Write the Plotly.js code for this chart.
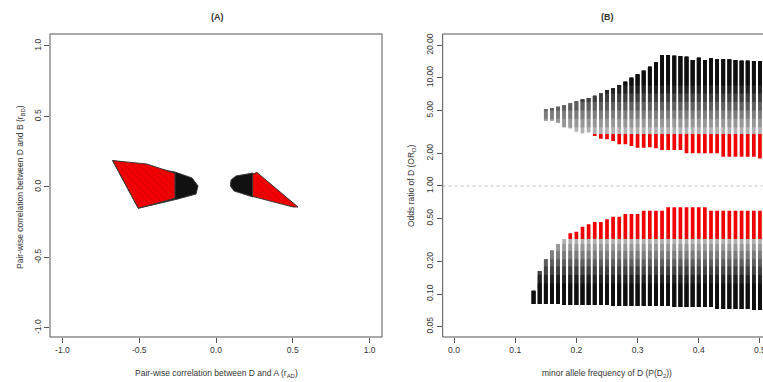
<!DOCTYPE html>
<html>
<head>
<meta charset="utf-8">
<script src="https://cdn.plot.ly/plotly-3.0.1.min.js"></script>
<style>html,body{margin:0;padding:0;background:#fff;overflow:hidden}#chart{width:763px;height:382px}</style>
</head>
<body>
<div id="chart"></div>
<script>
// ---------- Panel A data: outlines of the point clouds (r_AD, r_BD) ----------
const clusterLeftAllX  = [-0.673, -0.267, -0.156, -0.117, -0.130, -0.248, -0.506];
const clusterLeftAllY  = [ 0.187,  0.106,  0.064,  0.007, -0.050, -0.085, -0.151];
const clusterLeftRedX  = [-0.673, -0.451, -0.267, -0.267, -0.506];
const clusterLeftRedY  = [ 0.187,  0.163,  0.097, -0.080, -0.151];
const clusterRightAllX = [0.098, 0.130, 0.241, 0.241, 0.117, 0.094];
const clusterRightAllY = [0.050, 0.078, 0.099, -0.071, -0.028, 0.007];
const clusterRightRedX = [0.238, 0.267, 0.534, 0.502, 0.238];
const clusterRightRedY = [0.092, 0.103, -0.142, -0.142, -0.067];

// ---------- Panel B data: columns of OR_D per minor allele frequency ----------
const upperX      = [0.15,0.16,0.17,0.18,0.19,0.20,0.21,0.22,0.23,0.24,0.25,0.26,0.27,0.28,0.29,0.30,0.31,0.32,0.33,0.34,0.35,0.36,0.37,0.38,0.39,0.40,0.41,0.42,0.43,0.44,0.45,0.46,0.47,0.48,0.49,0.50];
const upperTop    = [5.13,5.28,5.42,5.59,5.83,6.04,6.35,6.53,6.86,7.21,7.74,8.03,8.61,9.24,10.07,10.82,11.68,12.73,13.97,16.33,16.33,16.08,15.99,15.74,14.68,15.42,14.68,15.22,14.90,14.90,14.90,14.68,14.45,14.45,14.36,14.36];
const upperBottom = [4.02,4.02,3.85,3.50,3.40,3.18,3.08,3.12,2.90,2.74,2.71,2.61,2.43,2.43,2.35,2.26,2.26,2.28,2.23,2.15,2.15,2.15,2.15,2.01,2.01,2.01,2.01,2.01,2.01,1.86,1.86,1.86,1.86,1.86,1.86,1.80];
const upperRedTop = [null,null,null,null,null,null,null,null,3.03,3.03,3.03,3.03,3.03,3.03,3.03,3.03,3.03,3.03,3.03,3.03,3.03,3.03,3.03,3.03,3.03,3.03,3.03,3.03,3.03,3.03,3.03,3.03,3.03,3.03,3.03,3.03];

const lowerX         = [0.13,0.14,0.15,0.16,0.17,0.18,0.19,0.20,0.21,0.22,0.23,0.24,0.25,0.26,0.27,0.28,0.29,0.30,0.31,0.32,0.33,0.34,0.35,0.36,0.37,0.38,0.39,0.40,0.41,0.42,0.43,0.44,0.45,0.46,0.47,0.48,0.49,0.50];
const lowerTop       = [0.107,0.163,0.210,0.255,0.290,0.323,0.365,0.377,0.420,0.442,0.464,0.464,0.492,0.520,0.520,0.551,0.551,0.551,0.591,0.591,0.591,0.591,0.635,0.635,0.635,0.635,0.635,0.635,0.635,0.591,0.591,0.591,0.591,0.591,0.591,0.591,0.591,0.591];
const lowerBottom    = [0.0808,0.0808,0.0808,0.0808,0.0808,0.0791,0.0791,0.0791,0.0791,0.0791,0.0791,0.0791,0.0791,0.0775,0.0775,0.0775,0.0775,0.0775,0.0775,0.0775,0.0775,0.0775,0.0775,0.0758,0.0758,0.0758,0.0758,0.0758,0.0758,0.0758,0.0727,0.0727,0.0727,0.0727,0.0727,0.0727,0.0712,0.0712];
const lowerRedBottom = [null,null,null,null,null,null,0.323,0.323,0.323,0.323,0.323,0.323,0.323,0.323,0.323,0.323,0.323,0.323,0.323,0.323,0.323,0.323,0.323,0.323,0.323,0.323,0.323,0.323,0.323,0.323,0.323,0.323,0.323,0.323,0.323,0.323,0.323,0.323];

const xTicksA = [-1, -0.5, 0, 0.5, 1];
const xTickTextA = ['-1.0', '-0.5', '0.0', '0.5', '1.0'];
const yTicksA = [-1, -0.5, 0, 0.5, 1];
const yTickTextA = ['-1.0', '-0.5', '0.0', '0.5', '1.0'];
const xTicksB = [0, 0.1, 0.2, 0.3, 0.4, 0.5];
const xTickTextB = ['0.0', '0.1', '0.2', '0.3', '0.4', '0.5'];
const yTicksB = [0.05, 0.1, 0.2, 0.5, 1, 2, 5, 10, 20];
const yTickTextB = ['0.05', '0.10', '0.20', '0.50', '1.00', '2.00', '5.00', '10.00', '20.00'];

// ---------- helpers: build vertical segments from the column arrays ----------
function segments(xs, lo, hi) {
  const X = [], Y = [];
  for (let i = 0; i < xs.length; i++) {
    const a = lo[i], b = hi[i];
    if (a == null || b == null || !(b > a)) continue;
    X.push(xs[i], xs[i], null);
    Y.push(a, b, null);
  }
  return {X, Y};
}
const clampMax = (arr, v) => arr.map(a => a == null ? null : Math.max(a, v));
const clampMin = (arr, v) => arr.map(a => a == null ? null : Math.min(a, v));

const RED = '#f00000';
const LW = 3.7;

function segTrace(seg, color) {
  return {x: seg.X, y: seg.Y, xaxis: 'x2', yaxis: 'y2', mode: 'lines',
          line: {color: color, width: LW}, hoverinfo: 'skip', showlegend: false, connectgaps: false};
}

// shading levels (style only): lighter grey near the red band, black at the far end
const upperShade = [[0, '#b0b0b0'], [3.5, '#979797'], [4.2, '#7c7c7c'], [5.0, '#5e5e5e'], [6.0, '#404040'], [7.2, '#222'], [8.5, '#0e0e0e']];
const lowerShade = [[1, '#b0b0b0'], [0.29, '#979797'], [0.25, '#7c7c7c'], [0.21, '#5e5e5e'], [0.18, '#404040'], [0.15, '#222'], [0.125, '#0e0e0e']];

const data = [];
function poly(xs, ys, fill, pattern) {
  const t = {x: xs.concat([xs[0]]), y: ys.concat([ys[0]]), xaxis: 'x', yaxis: 'y', mode: 'lines',
          fill: 'toself', fillcolor: fill, line: {color: '#3a3a3a', width: 1},
          hoverinfo: 'skip', showlegend: false};
  if (pattern) t.fillpattern = pattern;
  return t;
}
const redPattern = {shape: '\\', bgcolor: RED, fgcolor: '#c00000', size: 5, solidity: 0.12};
data.push(poly(clusterLeftAllX, clusterLeftAllY, '#111'));
data.push(poly(clusterLeftRedX, clusterLeftRedY, RED, redPattern));
data.push(poly(clusterRightAllX, clusterRightAllY, '#111'));
data.push(poly(clusterRightRedX, clusterRightRedY, RED, redPattern));

// upper cloud
const upLow = upperBottom.map((b, i) => upperRedTop[i] == null ? b : Math.max(b, upperRedTop[i]));
upperShade.forEach(([v, c]) => data.push(segTrace(segments(upperX, clampMax(upLow, v), upperTop), c)));
data.push(segTrace(segments(upperX, upperBottom, upperRedTop.map((r, i) => r == null ? null : Math.min(r, upperTop[i]))), RED));

// lower cloud
const lowHigh = lowerTop.map((t, i) => lowerRedBottom[i] == null ? t : Math.min(t, lowerRedBottom[i]));
lowerShade.forEach(([v, c]) => data.push(segTrace(segments(lowerX, lowerBottom, clampMin(lowHigh, v)), c)));
data.push(segTrace(segments(lowerX, lowerRedBottom, lowerTop), RED));

const FONT = 'Liberation Sans, Arial, sans-serif';
const tickFont = {family: FONT, size: 8.5, color: '#333'};
const yDom = [45/382, 348/382];

const commonAxis = {showgrid: false, zeroline: false, showline: false, ticks: 'outside',
                    ticklen: 5, tickwidth: 1, tickcolor: '#555', tickfont: tickFont, fixedrange: true};

function ann(text, xpx, ypx, size, angle) {
  return {text: text, xref: 'paper', yref: 'paper', x: xpx/763, y: (382-ypx)/382,
          xanchor: 'center', yanchor: 'middle', showarrow: false, textangle: angle || 0,
          font: {family: FONT, size: size, color: '#333'}};
}

const layout = {
  width: 763, height: 382,
  margin: {l: 0, r: 0, t: 0, b: 0},
  paper_bgcolor: '#fff', plot_bgcolor: '#fff',
  showlegend: false,
  font: {family: FONT, color: '#333'},
  xaxis: Object.assign({}, commonAxis, {domain: [50/763, 382/763], range: [-1.081, 1.081],
          tickvals: xTicksA, ticktext: xTickTextA, anchor: 'y'}),
  yaxis: Object.assign({}, commonAxis, {domain: yDom, range: [-1.064, 1.085],
          tickvals: yTicksA, ticktext: yTickTextA, tickangle: -90, anchor: 'x'}),
  xaxis2: Object.assign({}, commonAxis, {domain: [442.7/763, 1], range: [-0.0185, 0.505],
          tickvals: xTicksB, ticktext: xTickTextB, anchor: 'y2', ticklabeloverflow: 'allow'}),
  yaxis2: Object.assign({}, commonAxis, {domain: yDom, type: 'log', range: [-1.398, 1.407],
          tickvals: yTicksB, ticktext: yTickTextB, tickangle: -90, anchor: 'x2'}),
  shapes: [
    {type: 'rect', xref: 'x domain', yref: 'y domain', x0: 0, x1: 1, y0: 0, y1: 1,
     line: {color: '#555', width: 1}, layer: 'above'},
    {type: 'line', xref: 'x2 domain', yref: 'y2 domain', x0: 0, x1: 1, y0: 1, y1: 1, line: {color: '#555', width: 1}},
    {type: 'line', xref: 'x2 domain', yref: 'y2 domain', x0: 0, x1: 1, y0: 0, y1: 0, line: {color: '#555', width: 1}},
    {type: 'line', xref: 'x2 domain', yref: 'y2 domain', x0: 0, x1: 0, y0: 0, y1: 1, line: {color: '#555', width: 1}},
    {type: 'line', xref: 'x2 domain', yref: 'y2', x0: 0, x1: 1, y0: 1, y1: 1,
     line: {color: '#c4c4c4', width: 1, dash: 'dot'}, layer: 'below'}
  ],
  annotations: [
    ann('<b>(A)</b>', 217, 17, 9),
    ann('<b>(B)</b>', 607, 17, 9),
    ann('Pair-wise correlation between D and A (r<sub>AD</sub>)', 216, 373, 8.5),
    ann('minor allele frequency of D (P(D<sub>2</sub>))', 607, 373, 8.5),
    ann('Pair-wise correlation between D and B (r<sub>BD</sub>)', 20, 187, 8.5, -90),
    ann('Odds ratio of D (OR<sub>D</sub>)', 411, 186, 8.5, -90)
  ]
};

Plotly.newPlot('chart', data, layout, {staticPlot: true, displayModeBar: false});
</script>
</body>
</html>
